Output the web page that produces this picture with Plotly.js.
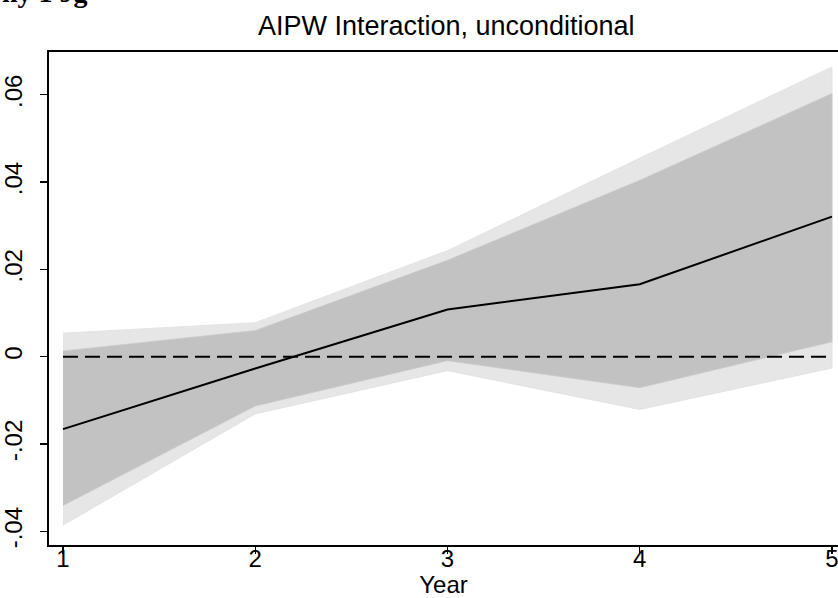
<!DOCTYPE html>
<html>
<head>
<meta charset="utf-8">
<script src="https://cdn.plot.ly/plotly-3.0.1.min.js"></script>
<style>html,body{margin:0;padding:0;background:#fff;overflow:hidden;}</style>
</head>
<body>
<div id="chart" style="width:838px;height:598px;"></div>
<script>
const years = [1, 2, 3, 4, 5];
const estimate = [-0.0166, -0.0027, 0.0108, 0.0166, 0.0321];
const ci95Lower = [-0.0341, -0.0113, -0.0009, -0.0071, 0.0034];
const ci95Upper = [0.0013, 0.0060, 0.0221, 0.0404, 0.0603];
const ci99Lower = [-0.0386, -0.0131, -0.0032, -0.0121, -0.0026];
const ci99Upper = [0.0054, 0.0078, 0.0243, 0.0455, 0.0664];
const yTickVals = [-0.04, -0.02, 0, 0.02, 0.04, 0.06];
const yTickText = ['-.04', '-.02', '0', '.02', '.04', '.06'];
const xTickVals = [1, 2, 3, 4, 5];

function band(lower, upper) {
  return {
    x: years.concat(years.slice().reverse()),
    y: upper.concat(lower.slice().reverse())
  };
}
const outer = band(ci99Lower, ci99Upper);
const inner = band(ci95Lower, ci95Upper);

const FONT = 'Liberation Sans, Arial, sans-serif';

const traces = [
  {x: outer.x, y: outer.y, type: 'scatter', mode: 'lines', fill: 'toself',
   fillcolor: '#e6e6e6', line: {color: '#e0e0e0', width: 0.8}, hoverinfo: 'skip', showlegend: false},
  {x: inner.x, y: inner.y, type: 'scatter', mode: 'lines', fill: 'toself',
   fillcolor: '#c2c2c2', line: {color: '#cacaca', width: 0.8}, hoverinfo: 'skip', showlegend: false},
  {x: [years[0], years[years.length - 1]], y: [0, 0], type: 'scatter', mode: 'lines',
   line: {color: '#000', width: 2, dash: '15px,7px'}, hoverinfo: 'skip', showlegend: false},
  {x: years, y: estimate, type: 'scatter', mode: 'lines',
   line: {color: '#000', width: 2}, showlegend: false}
];

const layout = {
  width: 838, height: 598,
  margin: {l: 49, r: 0, t: 52, b: 53, pad: 0},
  paper_bgcolor: '#fff', plot_bgcolor: '#fff',
  font: {family: FONT, color: '#000', size: 24},
  title: {text: 'AIPW Interaction, unconditional', font: {family: FONT, size: 27, color: '#000'},
          x: 0.5325, xanchor: 'center', y: 0.958, yanchor: 'middle'},
  xaxis: {
    range: [0.9272, 5.0312], tickvals: xTickVals, ticktext: xTickVals.map(String),
    showgrid: false, zeroline: false, showline: true, linecolor: '#000', linewidth: 2, mirror: true,
    ticks: 'outside', ticklen: 7, tickwidth: 1.3, tickcolor: '#000', ticklabelstandoff: -16,
    ticklabeloverflow: 'allow',
    tickfont: {family: FONT, size: 24, color: '#000'},
    title: {text: 'Year', font: {family: FONT, size: 24, color: '#000'}, standoff: 10}
  },
  yaxis: {
    range: [-0.04314, 0.06981], tickvals: yTickVals, ticktext: yTickText, tickangle: -90,
    showgrid: false, zeroline: false, showline: true, linecolor: '#000', linewidth: 2,
    ticks: 'outside', ticklen: 7, tickwidth: 1.3, tickcolor: '#000', ticklabelstandoff: 8,
    ticklabeloverflow: 'allow',
    tickfont: {family: FONT, size: 24, color: '#000'}
  },
  annotations: [
    {text: '<b>ny 1 Jg</b>', xref: 'paper', yref: 'paper', x: -0.062, y: 1.086, xanchor: 'left', yanchor: 'bottom',
     showarrow: false, font: {family: 'Liberation Serif, Times New Roman, serif', size: 28, color: '#000'}}
  ]
};

Plotly.newPlot('chart', traces, layout, {displayModeBar: false, staticPlot: true});
</script>
</body>
</html>
